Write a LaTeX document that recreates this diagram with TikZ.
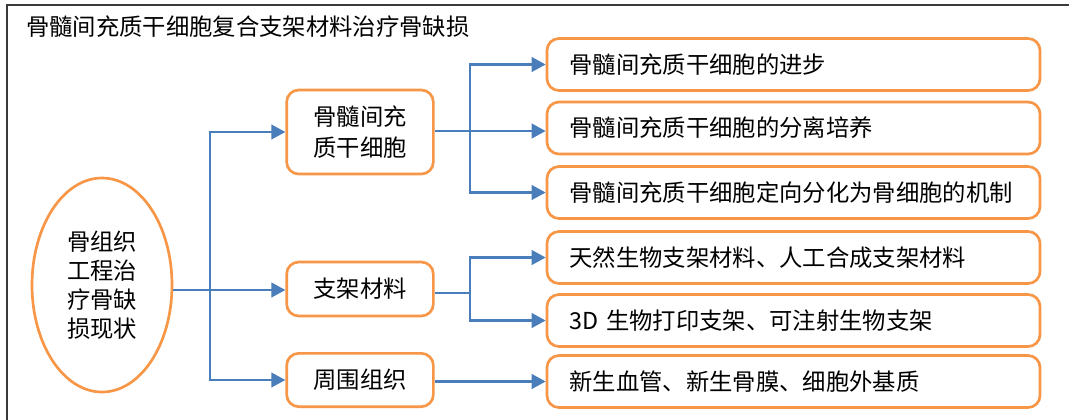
\documentclass[tikz,border=0pt]{standalone}
\usepackage{fontspec}
\setmainfont{Noto Sans CJK SC}
\usetikzlibrary{arrows.meta,shapes.geometric}
\definecolor{orng}{HTML}{F79646}
\definecolor{blu}{HTML}{4A7EBB}
\definecolor{frame}{HTML}{3A3A3A}
\begin{document}
\begin{tikzpicture}[x=0.75pt,y=-0.75pt,
  txt/.style={font=\fontsize{17.5}{23}\selectfont},
  box/.style={txt,draw=orng,line width=2pt,rounded corners=9pt,fill=white},
  midbox/.style={box,minimum width=110pt,align=center,inner sep=2pt},
  rbox/.style={box,minimum width=369.75pt,minimum height=39pt,text width=336pt,inner xsep=16.9pt,align=left},
  conn/.style={draw=blu,line width=1.7pt},
  arr/.style={conn,-{Triangle[length=10.5pt,width=11pt]}}]
\useasboundingbox (0,0) rectangle (1069,419);
\draw[frame,line width=1.2pt] (7,430) -- (7,5) -- (1080,5);
\node[txt,anchor=west,inner sep=0pt] (title) at (26,27) {骨髓间充质干细胞复合支架材料治疗骨缺损};

\node[ellipse,draw=orng,line width=2pt,minimum width=105pt,minimum height=160.5pt,inner sep=0pt,txt,align=center,font=\fontsize{17.5}{21.75}\selectfont] (root) at (102,285) {骨组织\\工程治\\疗骨缺\\损现状};

\node[midbox,minimum height=63pt,font=\fontsize{17.5}{23.25}\selectfont] (m1) at (360,132) {骨髓间充\\质干细胞};
\node[midbox,minimum height=40.5pt] (m2) at (360,289) {支架材料};
\node[midbox,minimum height=40pt] (m3) at (360,380) {周围组织};

\node[rbox] (r1) at (793.5,64.5) {骨髓间充质干细胞的进步};
\node[rbox] (r2) at (793.5,128) {骨髓间充质干细胞的分离培养};
\node[rbox] (r3) at (793.5,192.5) {骨髓间充质干细胞定向分化为骨细胞的机制};
\node[rbox] (r4) at (793.5,257.5) {天然生物支架材料、人工合成支架材料};
\node[rbox] (r5) at (793.5,320.5) {3D 生物打印支架、可注射生物支架};
\node[rbox] (r6) at (793.5,381.5) {新生血管、新生骨膜、细胞外基质};

\coordinate (t1) at (210,290);
\coordinate (b1) at (470,131);
\coordinate (b2) at (470,293);

\draw[conn] (root.east |- t1) -- (t1);
\draw[arr] (t1) -- (m2.west |- t1);
\draw[arr] (t1) |- (m1.west);
\draw[arr] (t1) |- (m3.west);

\draw[conn] (m1.east |- b1) -- (b1);
\draw[arr] (b1) |- (r1.west);
\draw[arr] (b1) -- (r2.west |- b1);
\draw[arr] (b1) |- (r3.west);

\draw[conn] (m2.east |- b2) -- (b2);
\draw[arr] (b2) |- (r4.west);
\draw[arr] (b2) |- (r5.west);

\draw[arr] (m3.east |- r6.west) -- (r6.west);
\end{tikzpicture}
\end{document}
